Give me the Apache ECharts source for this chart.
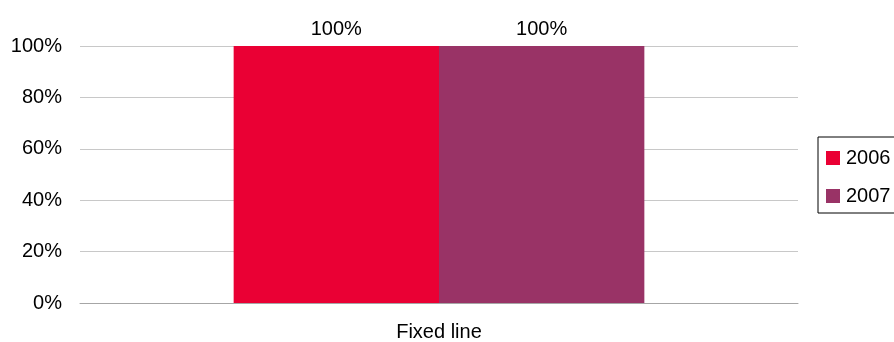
<!DOCTYPE html>
<html>
<head>
<meta charset="utf-8">
<script src="https://cdn.jsdelivr.net/npm/echarts@6/dist/echarts.min.js"></script>
<style>
  html, body { margin: 0; padding: 0; background: #fff; }
  #chart { width: 894px; height: 342px; }
</style>
</head>
<body>
<div id="chart"></div>
<script>
// Share of lines, by year
const categories = ['Fixed line'];
const years = ['2006', '2007'];
const values2006 = [100];
const values2007 = [100];
const yTicks = [0, 20, 40, 60, 80, 100];

const colors = ['#EA0034', '#993366'];
const font = 'Liberation Sans, Arial, sans-serif';
const fontSize = 20;

const chart = echarts.init(document.getElementById('chart'));

const barSeries = (name, data, color) => ({
  name: name,
  type: 'bar',
  data: data,
  barGap: '0%',
  barCategoryGap: '42.8%',
  itemStyle: { color: color },
  label: {
    show: true,
    position: 'top',
    distance: 7,
    formatter: p => p.value + '%',
    color: '#000',
    fontFamily: font,
    fontSize: fontSize
  }
});

chart.setOption({
  animation: false,
  grid: { left: 80, right: 96, top: 46, bottom: 37, containLabel: false },
  legend: {
    orient: 'vertical',
    left: 818,
    top: 137,
    padding: [10, 60, 6, 8],
    itemGap: 16,
    itemWidth: 14,
    itemHeight: 14,
    borderColor: '#000',
    borderWidth: 1,
    icon: 'rect',
    data: years,
    textStyle: { color: '#000', fontFamily: font, fontSize: fontSize, lineHeight: 22, padding: [0, 0, 0, 1] }
  },
  xAxis: {
    type: 'category',
    data: categories,
    axisLine: { lineStyle: { color: '#a6a6a6' } },
    axisTick: { length: 6, lineStyle: { color: '#a6a6a6' } },
    axisLabel: { color: '#000', fontFamily: font, fontSize: fontSize, margin: 19 }
  },
  yAxis: {
    type: 'value',
    min: yTicks[0],
    max: yTicks[yTicks.length - 1],
    interval: 20,
    axisLine: { show: false },
    axisTick: { show: false },
    axisLabel: { color: '#000', fontFamily: font, fontSize: fontSize, margin: 18, formatter: v => v + '%' },
    splitLine: { lineStyle: { color: '#c8c8c8' } }
  },
  series: [
    barSeries(years[0], values2006, colors[0]),
    barSeries(years[1], values2007, colors[1])
  ]
});
</script>
</body>
</html>
